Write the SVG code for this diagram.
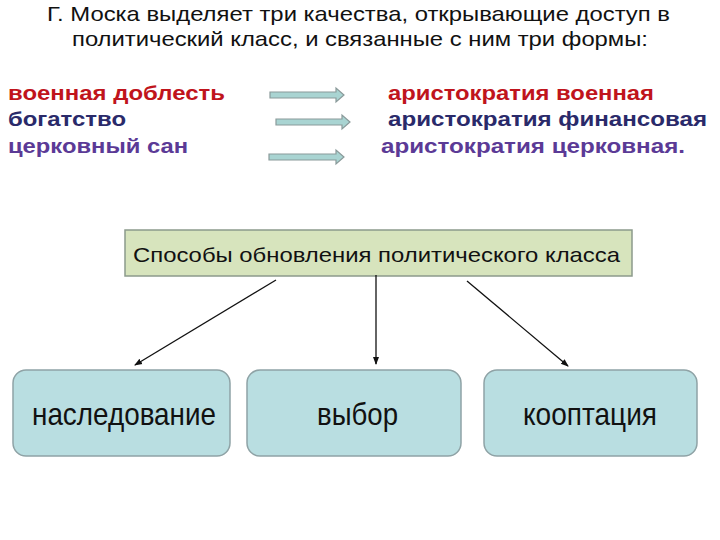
<svg xmlns="http://www.w3.org/2000/svg" width="720" height="540" viewBox="0 0 720 540">
<defs>
<style>
.t{font-family:"Liberation Sans",Arial,sans-serif;fill:#111}
.b{font-family:"Liberation Sans",Arial,sans-serif;font-weight:bold;font-size:21px}
.red{fill:#c0141c}.navy{fill:#2a2a6a}.pur{fill:#5b3a96}
.blk{fill:#a9d4d2;stroke:#8a9a9a;stroke-width:1.2}
.box{fill:#b9dee1;stroke:#8fa3a6;stroke-width:1.5}
.con{stroke:#111;stroke-width:1.3;fill:none}
</style>
<marker id="ah" markerWidth="8" markerHeight="8" refX="7" refY="4" orient="auto" markerUnits="userSpaceOnUse">
<path d="M0,1 L8,4 L0,7 z" fill="#111"/>
</marker>
</defs>
<rect width="720" height="540" fill="#fff"/>
<g id="title">
<text class="t" x="47" y="21" font-size="21" textLength="623" lengthAdjust="spacingAndGlyphs">Г. Моска выделяет три качества, открывающие доступ в</text>
<text class="t" x="72" y="46" font-size="21" textLength="576" lengthAdjust="spacingAndGlyphs">политический класс, и связанные с ним три формы:</text>
</g>
<g id="qualities">
<text class="b red" x="8" y="100" textLength="217" lengthAdjust="spacingAndGlyphs">военная доблесть</text>
<text class="b navy" x="8" y="126" textLength="118" lengthAdjust="spacingAndGlyphs">богатство</text>
<text class="b pur" x="8" y="153" textLength="180" lengthAdjust="spacingAndGlyphs">церковный сан</text>
</g>
<g id="forms">
<text class="b red" x="388" y="100" textLength="266" lengthAdjust="spacingAndGlyphs">аристократия военная</text>
<text class="b navy" x="388" y="126" textLength="319" lengthAdjust="spacingAndGlyphs">аристократия  финансовая</text>
<text class="b pur" x="381" y="153" textLength="304" lengthAdjust="spacingAndGlyphs">аристократия церковная.</text>
</g>
<g id="block-arrows">
<path class="blk" d="M270,92 L336,92 L336,88 L344,95 L336,102 L336,98 L270,98 z"/>
<path class="blk" d="M276,119 L342,119 L342,115 L350,122 L342,129 L342,125 L276,125 z"/>
<path class="blk" d="M269,154 L336,154 L336,150 L344,157 L336,164 L336,160 L269,160 z"/>
</g>
<g id="ways">
<rect x="125" y="230" width="507" height="46" fill="#d7e4bd" stroke="#8c9a8c" stroke-width="1.5"/>
<text class="t" x="133" y="262" font-size="21" textLength="487" lengthAdjust="spacingAndGlyphs">Способы обновления политического класса</text>
</g>
<g id="connectors">
<line class="con" x1="276" y1="280" x2="135" y2="365" marker-end="url(#ah)"/>
<line class="con" x1="376" y1="275" x2="376" y2="364" marker-end="url(#ah)"/>
<line class="con" x1="467" y1="281" x2="568" y2="366" marker-end="url(#ah)"/>
</g>
<g id="n1">
<rect class="box" x="13" y="370" width="217" height="86" rx="13"/>
<text class="t" x="32" y="425" font-size="32" textLength="184" lengthAdjust="spacingAndGlyphs">наследование</text>
</g>
<g id="n2">
<rect class="box" x="247" y="370" width="214" height="86" rx="13"/>
<text class="t" x="317" y="425" font-size="32" textLength="81" lengthAdjust="spacingAndGlyphs">выбор</text>
</g>
<g id="n3">
<rect class="box" x="484" y="370" width="213" height="86" rx="13"/>
<text class="t" x="523" y="425" font-size="32" textLength="134" lengthAdjust="spacingAndGlyphs">кооптация</text>
</g>
</svg>
